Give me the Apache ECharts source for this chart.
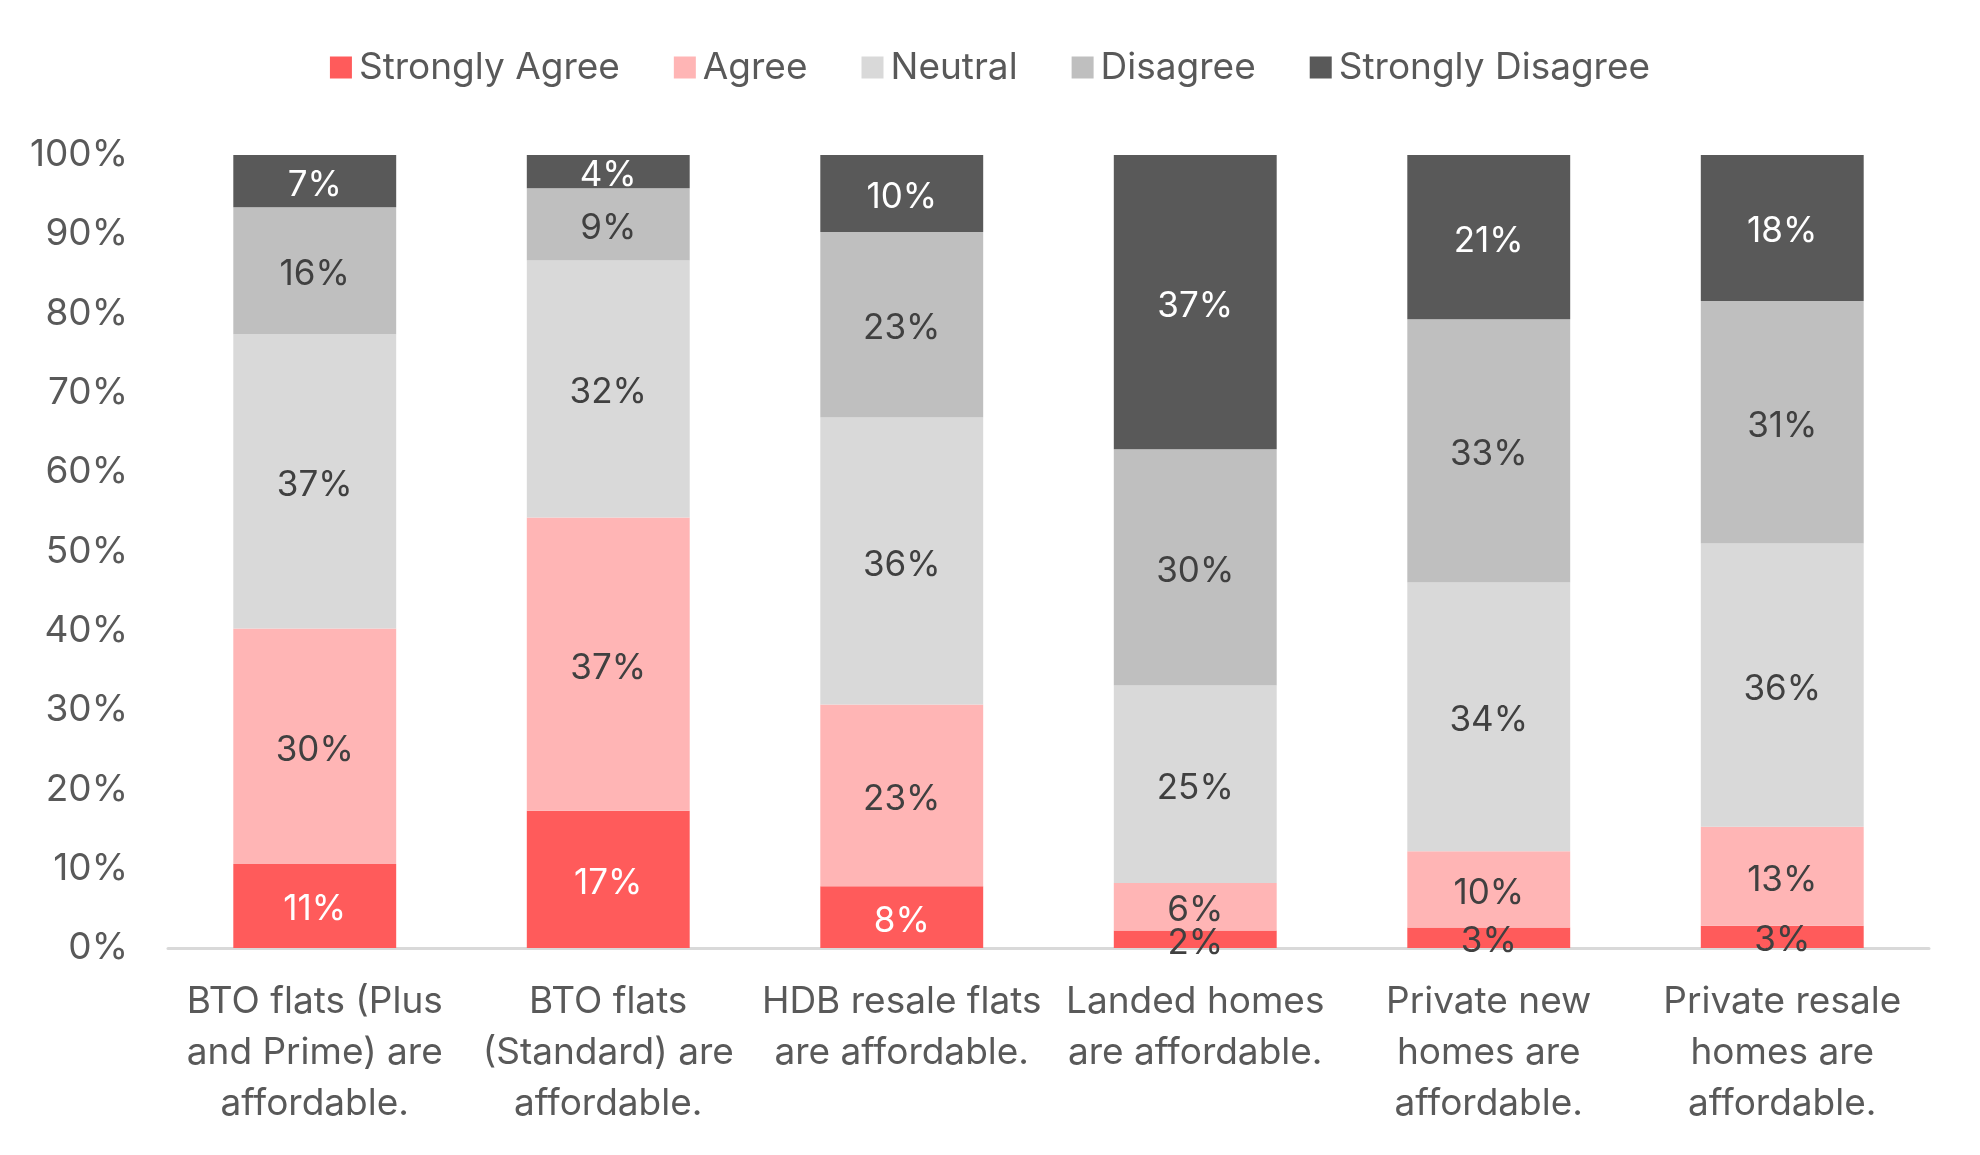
<!DOCTYPE html>
<html>
<head>
<meta charset="utf-8">
<script src="https://cdn.jsdelivr.net/npm/echarts@6/dist/echarts.min.js"></script>
<style>
html,body{margin:0;padding:0;background:#fff;}
#chart{width:1980px;height:1155px;}
</style>
</head>
<body>
<div id="chart"></div>
<script>
var categories = [
  "BTO flats (Plus\nand Prime) are\naffordable.",
  "BTO flats\n(Standard) are\naffordable.",
  "HDB resale flats\nare affordable.",
  "Landed homes\nare affordable.",
  "Private new\nhomes are\naffordable.",
  "Private resale\nhomes are\naffordable."
];
var seriesNames = ["Strongly Agree", "Agree", "Neutral", "Disagree", "Strongly Disagree"];
var stronglyAgree    = [10.6, 17.3, 7.8, 2.2, 2.6, 2.8];
var agree            = [29.7, 37.0, 22.9, 6.0, 9.6, 12.5];
var neutral          = [37.1, 32.4, 36.2, 24.9, 33.9, 35.7];
var disagree         = [16.0, 9.1, 23.4, 29.8, 33.2, 30.6];
var stronglyDisagree = [6.6, 4.2, 9.7, 37.1, 20.7, 18.4];
var yTicks = [0, 10, 20, 30, 40, 50, 60, 70, 80, 90, 100];

var colors = ["#FF5B5B", "#FFB5B5", "#D9D9D9", "#BFBFBF", "#595959"];
var FONT = "Inter";
var values = [stronglyAgree, agree, neutral, disagree, stronglyDisagree];

function labelColor(si, di) {
  if (si === 4) return "#FFFFFF";
  if (si === 0) return values[0][di] >= 5 ? "#FFFFFF" : "#404040";
  return "#404040";
}

var series = seriesNames.map(function (name, si) {
  return {
    name: name,
    type: "bar",
    stack: "total",
    barWidth: "55.5%",
    itemStyle: { color: colors[si] },
    label: {
      show: true,
      position: "inside",
      offset: [0, 4],
      fontFamily: FONT,
      fontSize: 35,
      formatter: function (p) { return Math.round(p.value) + "%"; }
    },
    data: values[si].map(function (v, di) {
      return { value: v, label: { color: labelColor(si, di) } };
    })
  };
});

var chart = echarts.init(document.getElementById("chart"), null, { renderer: "canvas" });
chart.setOption({
  animation: false,
  backgroundColor: "#FFFFFF",
  textStyle: { fontFamily: FONT },
  legend: {
    top: 44,
    left: "center",
    itemWidth: 22,
    itemHeight: 22,
    itemGap: 54,
    icon: "rect",
    textStyle: { fontFamily: FONT, fontSize: 37, color: "#595959", padding: [0, 0, 0, 2] },
    data: seriesNames
  },
  grid: { left: 168, right: 51, top: 155, bottom: 207, containLabel: false },
  xAxis: {
    type: "category",
    data: categories,
    axisLine: { lineStyle: { color: "#D9D9D9", width: 3 } },
    axisTick: { show: false },
    axisLabel: {
      interval: 0,
      margin: 28,
      fontFamily: FONT,
      fontSize: 37,
      lineHeight: 51,
      color: "#595959",
      align: "center"
    }
  },
  yAxis: {
    type: "value",
    min: yTicks[0],
    max: yTicks[yTicks.length - 1],
    interval: yTicks[1] - yTicks[0],
    axisLine: { show: false },
    axisTick: { show: false },
    splitLine: { show: false },
    axisLabel: {
      margin: 40,
      fontFamily: FONT,
      fontSize: 37,
      color: "#595959",
      padding: [4, 0, 0, 0],
      formatter: function (v) { return v + "%"; }
    }
  },
  series: series
});
</script>
</body>
</html>
